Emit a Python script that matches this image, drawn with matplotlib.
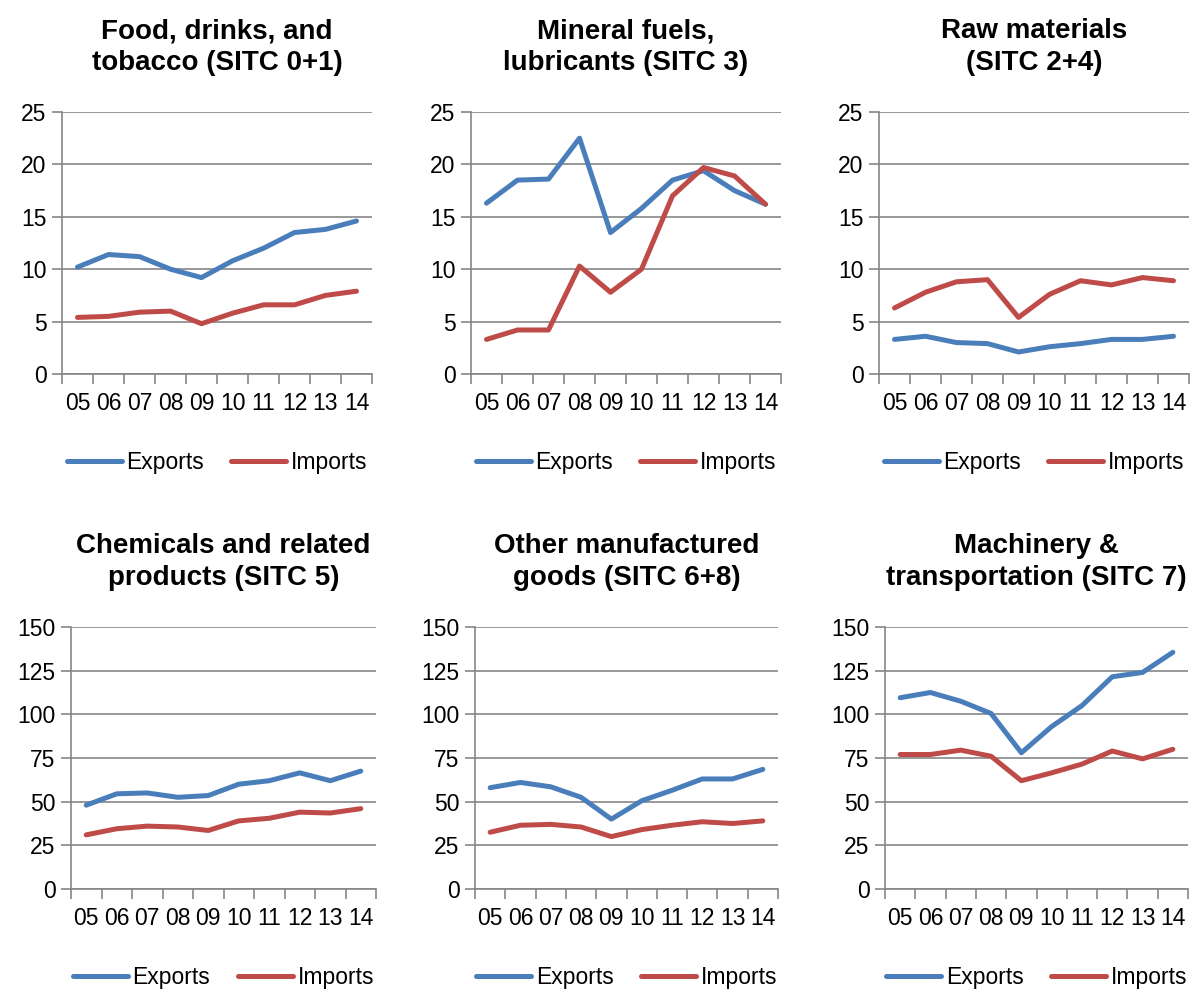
import numpy as np
import matplotlib
matplotlib.use("Agg")
import matplotlib.pyplot as plt

plt.rcParams["font.family"] = ["Liberation Sans", "DejaVu Sans"]

# ---------------------------------------------------------------------------
# data
# ---------------------------------------------------------------------------
years = ["05", "06", "07", "08", "09", "10", "11", "12", "13", "14"]

titles = [
    "Food, drinks, and\ntobacco (SITC 0+1)",
    "Mineral fuels,\nlubricants (SITC 3)",
    "Raw materials\n(SITC 2+4)",
    "Chemicals and related\nproducts (SITC 5)",
    "Other manufactured\ngoods (SITC 6+8)",
    "Machinery &\ntransportation (SITC 7)",
]

food_exp = [10.2, 11.4, 11.2, 10.0, 9.2, 10.8, 12.0, 13.5, 13.8, 14.6]
food_imp = [5.4, 5.5, 5.9, 6.0, 4.8, 5.8, 6.6, 6.6, 7.5, 7.9]
fuel_exp = [16.3, 18.5, 18.6, 22.5, 13.5, 15.8, 18.5, 19.4, 17.5, 16.2]
fuel_imp = [3.3, 4.2, 4.2, 10.3, 7.8, 10.0, 17.0, 19.7, 18.9, 16.2]
raw_exp = [3.3, 3.6, 3.0, 2.9, 2.1, 2.6, 2.9, 3.3, 3.3, 3.6]
raw_imp = [6.3, 7.8, 8.8, 9.0, 5.4, 7.6, 8.9, 8.5, 9.2, 8.9]
chem_exp = [48, 54.5, 55, 52.5, 53.5, 60, 62, 66.5, 62, 67.5]
chem_imp = [31, 34.5, 36, 35.5, 33.5, 39, 40.5, 44, 43.5, 46]
manu_exp = [58, 61, 58.5, 52.5, 40, 50.5, 56.5, 63, 63, 68.5]
manu_imp = [32.5, 36.5, 37, 35.5, 30, 34, 36.5, 38.5, 37.5, 39]
mach_exp = [109.5, 112.5, 107.5, 100.5, 78, 93, 105, 121.5, 124, 135.5]
mach_imp = [77, 77, 79.5, 76, 62, 66.5, 71.5, 79, 74.5, 80]

exports = [food_exp, fuel_exp, raw_exp, chem_exp, manu_exp, mach_exp]
imports = [food_imp, fuel_imp, raw_imp, chem_imp, manu_imp, mach_imp]

# ---------------------------------------------------------------------------
# layout (pixel boxes of the plot areas)
# ---------------------------------------------------------------------------
W, H = 1193, 989
boxes = [
    (62, 112, 310, 262), (471, 112, 310, 262), (879, 112, 310, 262),
    (71, 627, 305, 262), (475, 627, 303, 262), (885, 627, 303, 262),
]

BLUE = "#4A7EBB"
RED = "#BE4B48"
GRID = "#868686"

fig = plt.figure(figsize=(W / 100, H / 100), dpi=100)

for i, (x0, y0, w, h) in enumerate(boxes):
    ax = fig.add_axes([x0 / W, (H - y0 - h) / H, w / W, h / H])
    xs = np.arange(len(years)) + 0.5
    ax.plot(xs, exports[i], color=BLUE, lw=3.6, label="Exports",
            solid_capstyle="round", solid_joinstyle="round")
    ax.plot(xs, imports[i], color=RED, lw=3.6, label="Imports",
            solid_capstyle="round", solid_joinstyle="round")

    ax.set_xlim(0, len(years))
    if i < 3:
        ax.set_ylim(0, 25)
        ax.set_yticks(range(0, 26, 5))
    else:
        ax.set_ylim(0, 150)
        ax.set_yticks(range(0, 151, 25))
    ax.yaxis.grid(True, color=GRID, lw=1.2)
    ax.set_axisbelow(True)

    ax.set_xticks(range(len(years) + 1))
    ax.set_xticklabels([])
    ax.set_xticks(xs, minor=True)
    ax.set_xticklabels(years, minor=True)
    ax.tick_params(axis="x", which="major", direction="out", length=7,
                   color=GRID, width=1.2)
    ax.tick_params(axis="x", which="minor", length=0, pad=13, labelsize=16.5)
    ax.tick_params(axis="y", length=7, color=GRID, width=1.2, labelsize=16.5,
                   pad=4)

    for s in ["top", "right"]:
        ax.spines[s].set_visible(False)
    for s in ["left", "bottom"]:
        ax.spines[s].set_color(GRID)
        ax.spines[s].set_linewidth(1.2)

    ax.set_title(titles[i], fontsize=20, fontweight="bold", pad=30,
                 linespacing=1.3)
    ax.legend(loc="upper center", bbox_to_anchor=(0.5, -0.215), ncol=2,
              frameon=False, fontsize=16.5, handlelength=2.4,
              columnspacing=1.2, handletextpad=0.2)

fig.savefig("out.png", dpi=100)
